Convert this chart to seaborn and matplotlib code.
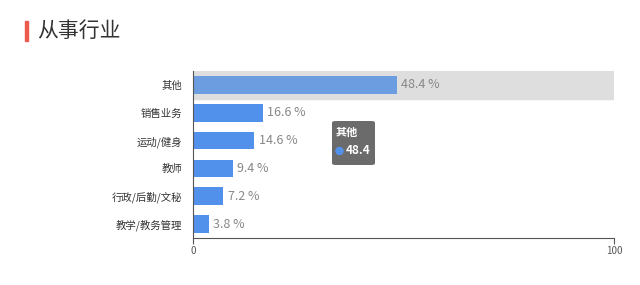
import matplotlib
matplotlib.use("Agg")
import matplotlib.pyplot as plt
from matplotlib.patches import FancyBboxPatch, Rectangle, Ellipse
import seaborn as sns
import pandas as pd

categories = ["其他", "销售业务", "运动/健身", "教师", "行政/后勤/文秘", "教学/教务管理"]
values = [48.4, 16.6, 14.6, 9.4, 7.2, 3.8]
x_ticks = [0, 100]
title = "从事行业"
tooltip_label = "其他"
tooltip_value = "48.4"

sns.set_theme(style="white")
plt.rcParams['font.family'] = ['Noto Sans CJK SC', 'DejaVu Sans']

df = pd.DataFrame({"category": categories, "value": values})

fig = plt.figure(figsize=(6.4, 2.85), dpi=100)
ax = fig.add_axes([193/640, 1-238/285, (614-193)/640, (238-71)/285])

# highlight band behind first category
ax.axhspan(-0.5, 0.5, xmin=0, xmax=1, color="#dedede", zorder=0)

palette = ["#6c9de0"] + ["#5291eb"] * (len(categories) - 1)
sns.barplot(data=df, x="value", y="category", hue="category", palette=palette,
            orient="h", width=0.64, legend=False, ax=ax, zorder=2,
            edgecolor="none", saturation=1)

for i, v in enumerate(values):
    ax.text(v + 1, i, f"{v} %", va="center", ha="left", color="#888888", fontsize=9)

ax.set_xlim(0, 100)
ax.set_ylim(len(categories) - 0.5, -0.5)
ax.set_xticks(x_ticks)
ax.set_xticklabels([str(t) for t in x_ticks], fontsize=7, color="#555555")
ax.tick_params(axis="y", labelsize=7.5, colors="#333333", length=0, pad=8)
ax.tick_params(axis="x", length=4, width=0.8, color="#555555", bottom=True, pad=2)
ax.set_xlabel("")
ax.set_ylabel("")
for s in ["top", "right"]:
    ax.spines[s].set_visible(False)
ax.spines["left"].set_color("#555555")
ax.spines["left"].set_linewidth(0.8)
ax.spines["bottom"].set_color("#555555")
ax.spines["bottom"].set_linewidth(0.8)

# title with red marker
fig.patches.append(Rectangle((25/640, 1-41/285), 3/640, 20/285, transform=fig.transFigure,
                             color="#ec5a50", figure=fig))
fig.text(37/640, 1-31/285, title, fontsize=15, color="#333333", va="center", ha="left")

# tooltip
box = FancyBboxPatch((332/640, 1-165/285), 43/640, 44/285,
                     boxstyle="round,pad=0,rounding_size=0.006",
                     transform=fig.transFigure, facecolor="#6b6b6b",
                     edgecolor="none", figure=fig, zorder=10)
fig.patches.append(box)
fig.text(336/640, 1-132/285, tooltip_label, fontsize=8, color="white",
         fontweight="bold", va="center", ha="left", zorder=11)
fig.patches.append(Ellipse((339.5/640, 1-151/285), 7/640, 7/285, transform=fig.transFigure,
                           color="#5291eb", figure=fig, zorder=11))
fig.text(346/640, 1-151/285, tooltip_value, fontsize=8.5, color="white",
         fontweight="bold", va="center", ha="left", zorder=11)

fig.savefig("out.png", dpi=100)
